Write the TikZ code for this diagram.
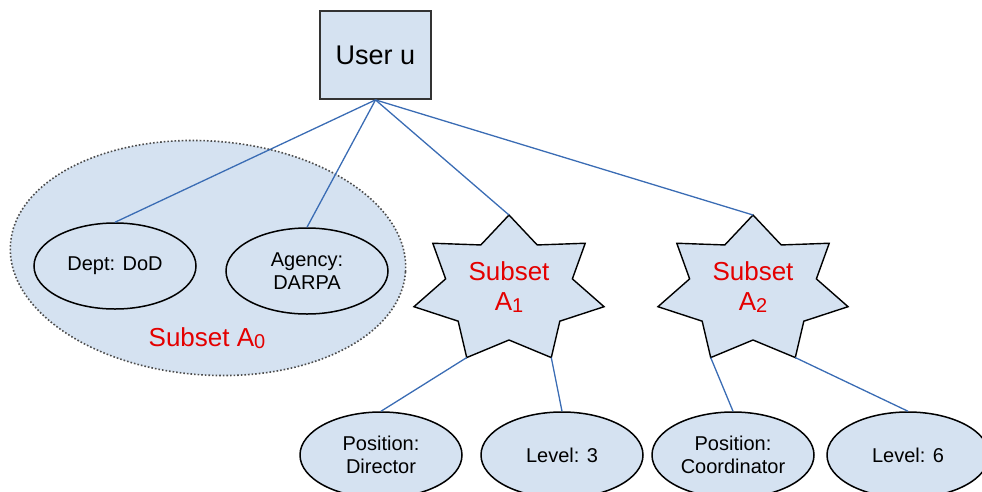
\documentclass[tikz,border=0pt]{standalone}
\usepackage{fontspec}
\setmainfont{Liberation Sans}
\usetikzlibrary{shapes.geometric}
\definecolor{cellblue}{RGB}{213,226,241}
\definecolor{linkblue}{RGB}{58,108,180}
\definecolor{subsetred}{RGB}{228,0,0}
\newcommand{\subsetfont}{\fontsize{26}{30}\selectfont}
\newcommand{\subidx}[1]{\raisebox{-2.5pt}{\fontsize{20}{20}\selectfont #1}}

\begin{document}
\begin{tikzpicture}[x=1pt,y=-1pt,
  attr/.style={ellipse,draw=black,fill=cellblue,line width=1.5pt,inner sep=0pt,
    minimum width=162pt,minimum height=86pt,align=center,font=\fontsize{20}{23}\selectfont},
  link/.style={draw=linkblue,line width=1.3pt},
  starpath/.style={draw=black,fill=cellblue,line width=1.4pt,line join=miter},
  subsetlabel/.style={text=subsetred,align=center,font=\subsetfont}]
  \useasboundingbox (0,0) rectangle (982,491);
  \clip (0,0) rectangle (982,491);

  % subset A0 holds two attributes
  \node[ellipse,draw=black!70,dotted,fill=cellblue,line width=1.6pt,minimum width=396pt,
    minimum height=234pt,rotate=-4] (setA0) at (208,258) {};
  \node[subsetlabel] (labelA0) at (207,338) {Subset A\subidx{0}};
  \node[attr] (dept) at (115,266) {Dept: DoD};
  \node[attr] (agency) at (307,271) {Agency:\\DARPA};

  \node[draw=black!80,fill=cellblue,line width=1.8pt,minimum width=111pt,minimum height=88pt,
    font=\fontsize{27}{32}\selectfont] (user) at (375.5,55) {User u};

  % seven-pointed stars
  \begin{scope}[shift={(509,290)},xscale=1.3]
    \draw[starpath] (-90:75) coordinate (a1top) -- (-64.29:50) -- (-38.57:75) -- (-12.86:50)
      -- (12.86:75) -- (38.57:50) -- (64.29:75) coordinate (a1br) -- (90:50)
      -- (115.71:75) coordinate (a1bl) -- (141.43:50) -- (167.14:75) -- (192.86:50)
      -- (218.57:75) -- (244.29:50) -- cycle;
  \end{scope}
  \node[subsetlabel] (labelA1) at (509,287) {Subset\\A\subidx{1}};
  \begin{scope}[shift={(753,290)},xscale=1.3]
    \draw[starpath] (-90:75) coordinate (a2top) -- (-64.29:50) -- (-38.57:75) -- (-12.86:50)
      -- (12.86:75) -- (38.57:50) -- (64.29:75) coordinate (a2br) -- (90:50)
      -- (115.71:75) coordinate (a2bl) -- (141.43:50) -- (167.14:75) -- (192.86:50)
      -- (218.57:75) -- (244.29:50) -- cycle;
  \end{scope}
  \node[subsetlabel] (labelA2) at (753,287) {Subset\\A\subidx{2}};

  \node[attr] (director) at (381,455) {Position:\\Director};
  \node[attr] (level3) at (562,455) {Level: 3};
  \node[attr] (coordinator) at (733,455) {Position:\\Coordinator};
  \node[attr] (level6) at (908,455) {Level: 6};

  \draw[link] (user.south) -- (dept.north);
  \draw[link] (user.south) -- (agency.north);
  \draw[link] (user.south) -- (a1top);
  \draw[link] (user.south) -- (a2top);
  \draw[link] (a1bl) -- (director.north);
  \draw[link] (a1br) -- (level3.north);
  \draw[link] (a2bl) -- (coordinator.north);
  \draw[link] (a2br) -- (level6.north);
\end{tikzpicture}
\end{document}
